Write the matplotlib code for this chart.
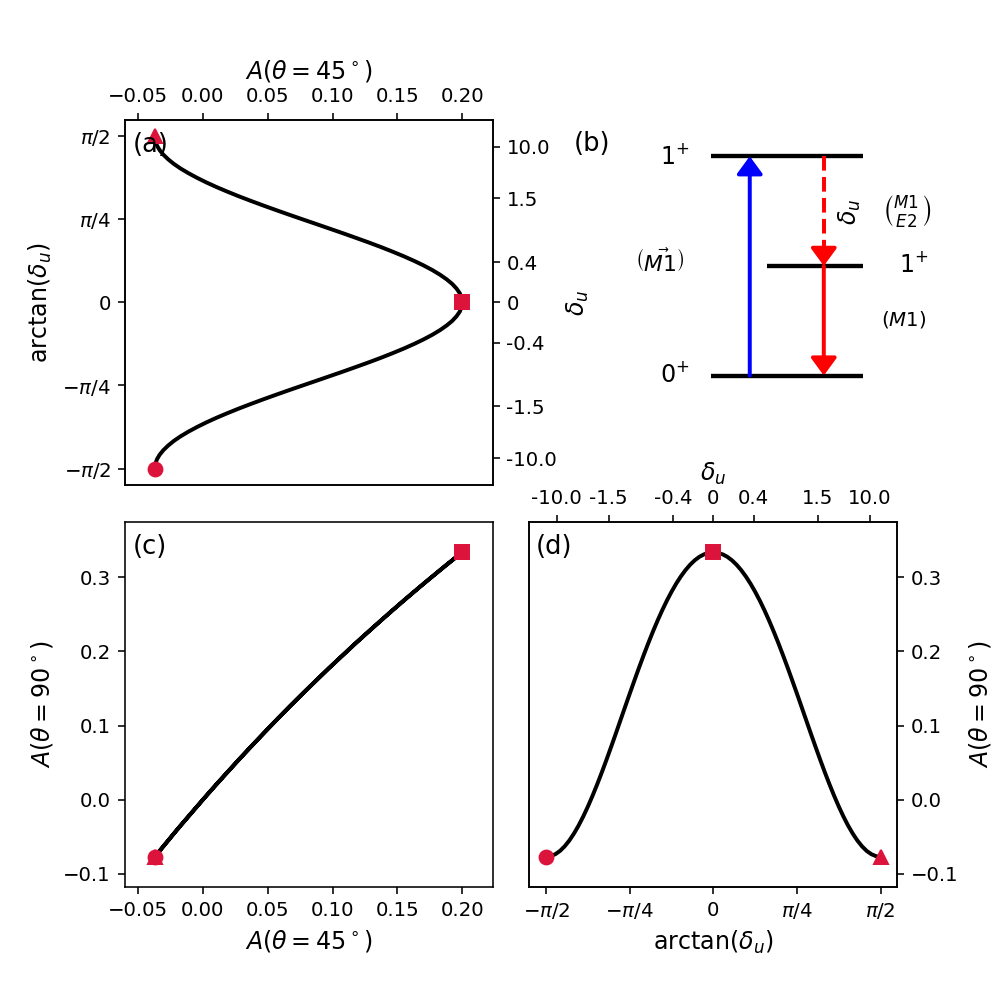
import numpy as np
import matplotlib.pyplot as plt

# mixing angle arctan(delta_u) in degrees
arctan_delta_deg = [-90, -87.5, -85, -82.5, -80, -77.5, -75, -72.5, -70, -67.5, -65, -62.5,
                    -60, -57.5, -55, -52.5, -50, -47.5, -45, -42.5, -40, -37.5, -35, -32.5,
                    -30, -27.5, -25, -22.5, -20, -17.5, -15, -12.5, -10, -7.5, -5, -2.5,
                    0, 2.5, 5, 7.5, 10, 12.5, 15, 17.5, 20, 22.5, 25, 27.5,
                    30, 32.5, 35, 37.5, 40, 42.5, 45, 47.5, 50, 52.5, 55, 57.5,
                    60, 62.5, 65, 67.5, 70, 72.5, 75, 77.5, 80, 82.5, 85, 87.5, 90]

# asymmetries A(theta=45 deg) and A(theta=90 deg) along the curves
a45 = [-0.0370, -0.0366, -0.0354, -0.0333, -0.0304, -0.0267, -0.0223, -0.0171, -0.0111,
       -0.0045, 0.0027, 0.0105, 0.0189, 0.0277, 0.0370, 0.0466, 0.0565, 0.0666, 0.0769,
       0.0873, 0.0976, 0.1079, 0.1179, 0.1278, 0.1373, 0.1463, 0.1549, 0.1629, 0.1703,
       0.1770, 0.1829, 0.1880, 0.1923, 0.1956, 0.1981, 0.1995, 0.2000,
       0.1995, 0.1981, 0.1956, 0.1923, 0.1880, 0.1829, 0.1770, 0.1703, 0.1629, 0.1549,
       0.1463, 0.1373, 0.1278, 0.1179, 0.1079, 0.0976, 0.0873, 0.0769, 0.0666, 0.0565,
       0.0466, 0.0370, 0.0277, 0.0189, 0.0105, 0.0027, -0.0045, -0.0111, -0.0171, -0.0223,
       -0.0267, -0.0304, -0.0333, -0.0354, -0.0366, -0.0370]
a90 = [-0.0769, -0.0760, -0.0733, -0.0689, -0.0627, -0.0549, -0.0455, -0.0347, -0.0225,
       -0.0091, 0.0054, 0.0208, 0.0370, 0.0539, 0.0713, 0.0890, 0.1070, 0.1250, 0.1429,
       0.1605, 0.1779, 0.1947, 0.2110, 0.2266, 0.2414, 0.2553, 0.2683, 0.2802, 0.2911,
       0.3008, 0.3093, 0.3166, 0.3226, 0.3273, 0.3306, 0.3327, 0.3333,
       0.3327, 0.3306, 0.3273, 0.3226, 0.3166, 0.3093, 0.3008, 0.2911, 0.2802, 0.2683,
       0.2553, 0.2414, 0.2266, 0.2110, 0.1947, 0.1779, 0.1605, 0.1429, 0.1250, 0.1070,
       0.0890, 0.0713, 0.0539, 0.0370, 0.0208, 0.0054, -0.0091, -0.0225, -0.0347, -0.0455,
       -0.0549, -0.0627, -0.0689, -0.0733, -0.0760, -0.0769]

# delta_u tick values on the secondary axes
delta_ticks = [-10.0, -1.5, -0.4, 0.0, 0.4, 1.5, 10.0]
delta_labels = ['-10.0', '-1.5', '-0.4', '0', '0.4', '1.5', '10.0']

pi_ticks = [-np.pi / 2, -np.pi / 4, 0, np.pi / 4, np.pi / 2]
pi_labels = [r'$-\pi/2$', r'$-\pi/4$', '0', r'$\pi/4$', r'$\pi/2$']

t = np.deg2rad(arctan_delta_deg)
a45 = np.array(a45)
a90 = np.array(a90)

# special points: delta=-inf (circle), delta=0 (square), delta=+inf (triangle)
i_lo, i_mid, i_hi = 0, len(t) // 2, len(t) - 1
mcol = 'crimson'
ms = 7

fig, axs = plt.subplots(2, 2, figsize=(7, 7))
fig.subplots_adjust(wspace=0.1, hspace=0.1)
ax_a, ax_b, ax_c, ax_d = axs.flat

xlim45 = (-0.0603, 0.2234)
ylim90 = (-0.118, 0.3745)
tlim = (-1.728, 1.728)


def mark(ax, x, y):
    ax.plot(x[i_hi], y[i_hi], '^', color=mcol, ms=ms)
    ax.plot(x[i_mid], y[i_mid], 's', color=mcol, ms=ms)
    ax.plot(x[i_lo], y[i_lo], 'o', color=mcol, ms=ms)


# (a)
ax_a.plot(a45, t, 'k-', lw=2)
mark(ax_a, a45, t)
ax_a.set_xlim(xlim45)
ax_a.set_ylim(tlim)
ax_a.xaxis.tick_top()
ax_a.xaxis.set_label_position('top')
ax_a.set_xlabel(r'$A(\theta=45^\circ)$', fontsize=12)
ax_a.set_yticks(pi_ticks)
ax_a.set_yticklabels(pi_labels)
ax_a.set_ylabel(r'arctan($\delta_u$)', fontsize=12)
ax_a.text(0.022, 0.966, '(a)', transform=ax_a.transAxes, fontsize=13, va='top')
ax_a2 = ax_a.twinx()
ax_a2.set_ylim(tlim)
ax_a2.set_yticks(np.arctan(delta_ticks))
ax_a2.set_yticklabels(delta_labels)
ax_a2.set_ylabel(r'$\delta_u$', fontsize=12)

# (b) level scheme
ax_b.set_axis_off()
ax_b.set_xlim(0, 1)
ax_b.set_ylim(-0.5, 1.167)
ax_b.hlines([0.0, 1.0], 0.4946, 0.9064, color='k', lw=2.2)
ax_b.hlines([0.5], 0.6461, 0.9064, color='k', lw=2.2)
head = '-|>,head_length=0.75,head_width=0.55'
ax_b.annotate('', xy=(0.599, 1.0), xytext=(0.599, 0.0),
              arrowprops=dict(arrowstyle=head, color='blue', lw=2, shrinkA=0, shrinkB=0))
ax_b.plot([0.8002, 0.8002], [1.0, 0.56], color='red', lw=2, ls='--')
ax_b.annotate('', xy=(0.8002, 0.5), xytext=(0.8002, 0.58),
              arrowprops=dict(arrowstyle=head, color='red', lw=2, shrinkA=0, shrinkB=0))
ax_b.annotate('', xy=(0.8002, 0.0), xytext=(0.8002, 0.5),
              arrowprops=dict(arrowstyle=head, color='red', lw=2, shrinkA=0, shrinkB=0))
ax_b.text(0.355, 0.967, r'$1^{+}$', fontsize=12, va='baseline')
ax_b.text(0.354, -0.029, r'$0^{+}$', fontsize=12, va='baseline')
ax_b.text(1.004, 0.472, r'$1^{+}$', fontsize=12, va='baseline')
ax_b.text(0.955, 0.257, r'$(M1)$', fontsize=10, va='center')
ax_b.text(0.959, 0.750, r'$\binom{M1}{E2}$', fontsize=12, va='center')
ax_b.text(0.8715, 0.746, r'$\delta_u$', fontsize=12, rotation=90, ha='center', va='center')
ax_b.text(0.3525, 0.518, r'$\left(\vec{M1}\right)$', fontsize=11, ha='center', va='center')
ax_b.text(0.120, 1.055, '(b)', fontsize=13, va='center')

# (c)
ax_c.plot(a45, a90, 'k-', lw=2)
mark(ax_c, a45, a90)
ax_c.set_xlim(xlim45)
ax_c.set_ylim(ylim90)
ax_c.set_xlabel(r'$A(\theta=45^\circ)$', fontsize=12)
ax_c.set_ylabel(r'$A(\theta=90^\circ)$', fontsize=12)
ax_c.text(0.022, 0.966, '(c)', transform=ax_c.transAxes, fontsize=13, va='top')

# (d)
ax_d.plot(t, a90, 'k-', lw=2)
mark(ax_d, t, a90)
ax_d.set_xlim(tlim)
ax_d.set_ylim(ylim90)
ax_d.set_xticks(pi_ticks)
ax_d.set_xticklabels(pi_labels)
ax_d.set_xlabel(r'arctan($\delta_u$)', fontsize=12)
ax_d.yaxis.tick_right()
ax_d.yaxis.set_label_position('right')
ax_d.set_ylabel(r'$A(\theta=90^\circ)$', fontsize=12)
ax_d.text(0.018, 0.966, '(d)', transform=ax_d.transAxes, fontsize=13, va='top')
ax_d2 = ax_d.twiny()
ax_d2.set_xlim(tlim)
ax_d2.set_xticks(np.arctan(delta_ticks))
ax_d2.set_xticklabels(delta_labels)
ax_d2.set_xlabel(r'$\delta_u$', fontsize=12)

fig.savefig('out.png', dpi=142.43)
